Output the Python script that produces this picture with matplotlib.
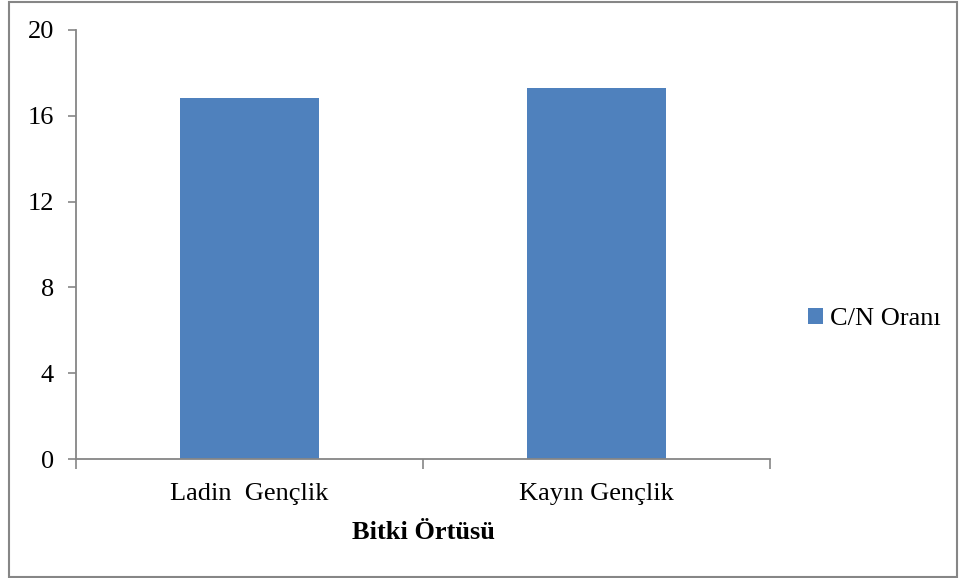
import matplotlib
matplotlib.use("Agg")
import matplotlib.pyplot as plt
from matplotlib.patches import Rectangle

categories = ["Ladin  Gençlik", "Kayın Gençlik"]
cn_ratio = [16.83, 17.28]
y_ticks = [0, 4, 8, 12, 16, 20]
series_name = "C/N Oranı"
x_title = "Bitki Örtüsü"

plt.rcParams["font.family"] = ["Liberation Serif", "DejaVu Serif"]

W, H = 960, 578
fs = 19
fig = plt.figure(figsize=(W / 100, H / 100), dpi=100)
ax = fig.add_axes([76 / W, 1 - 459 / H, (770 - 76) / W, (459 - 30) / H])

bar_color = "#4F81BD"
grey = "#868686"
x = list(range(len(categories)))
ax.bar(x, cn_ratio, width=0.4, color=bar_color, label=series_name)

ax.set_xlim(-0.5, len(categories) - 0.5)
ax.set_ylim(0, 20)
ax.set_yticks(y_ticks)
ax.set_yticklabels([str(v) for v in y_ticks], fontsize=fs)

# category labels centred, tick marks between categories
ax.set_xticks([i - 0.5 for i in range(len(categories) + 1)])
ax.set_xticklabels([])
ax.set_xticks(x, minor=True)
ax.set_xticklabels(categories, minor=True, fontsize=fs)
ax.tick_params(axis="x", which="minor", length=0, pad=17)
ax.tick_params(axis="x", which="major", length=7, color=grey, width=1.2)
ax.tick_params(axis="y", length=6, color=grey, width=1.2, pad=10)

for side in ("top", "right"):
    ax.spines[side].set_visible(False)
for side in ("left", "bottom"):
    ax.spines[side].set_color(grey)
    ax.spines[side].set_linewidth(1.3)

ax.set_xlabel(x_title, fontsize=fs, fontweight="bold", labelpad=12)

leg = fig.legend(loc="center left", bbox_to_anchor=(808 / W, 1 - 319 / H),
                 frameon=False, fontsize=fs, handlelength=0.55, handleheight=0.55,
                 handletextpad=0.3, borderaxespad=0, borderpad=0)

fig.patches.append(Rectangle((9 / W, 1 / H), (957 - 9) / W, (576 - 1) / H,
                             transform=fig.transFigure, fill=False,
                             edgecolor=grey, linewidth=1.5))

fig.savefig("out.png", dpi=100)
